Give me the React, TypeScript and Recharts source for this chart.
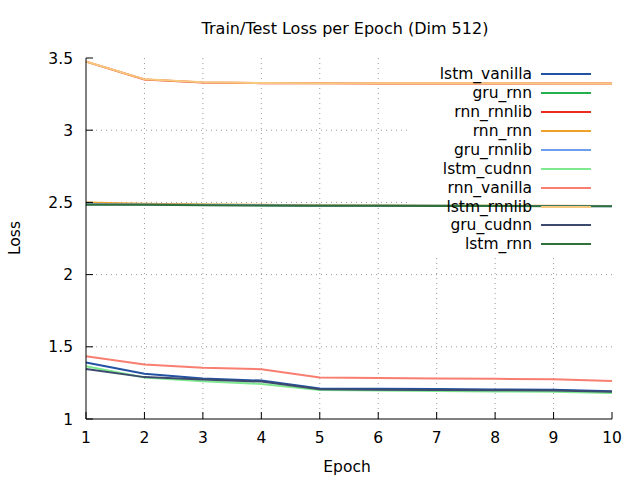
import React from 'react';
import { LineChart, Line, XAxis, YAxis, Legend, ReferenceLine } from 'recharts';

const epochs = [1, 2, 3, 4, 5, 6, 7, 8, 9, 10];
const xTicks = [1, 2, 3, 4, 5, 6, 7, 8, 9, 10];
const yTicks = [1, 1.5, 2, 2.5, 3, 3.5];

const lstmVanilla = [1.392, 1.313, 1.28, 1.266, 1.212, 1.209, 1.207, 1.205, 1.203, 1.193];
const gruRnn = [2.49, 2.488, 2.484, 2.481, 2.478, 2.477, 2.476, 2.476, 2.475, 2.475];
const rnnRnnlib = [3.475, 3.351, 3.331, 3.326, 3.325, 3.324, 3.324, 3.324, 3.323, 3.323];
const rnnRnn = [2.5, 2.49, 2.486, 2.483, 2.479, 2.478, 2.477, 2.476, 2.476, 2.475];
const gruRnnlib = [2.487, 2.486, 2.482, 2.48, 2.477, 2.476, 2.476, 2.475, 2.475, 2.474];
const lstmCudnn = [1.365, 1.287, 1.261, 1.243, 1.2, 1.197, 1.194, 1.191, 1.188, 1.18];
const rnnVanilla = [1.435, 1.378, 1.355, 1.345, 1.288, 1.284, 1.281, 1.278, 1.276, 1.263];
const lstmRnnlib = [3.476, 3.352, 3.332, 3.327, 3.326, 3.325, 3.325, 3.325, 3.324, 3.324];
const gruCudnn = [1.346, 1.29, 1.273, 1.259, 1.206, 1.203, 1.201, 1.199, 1.197, 1.188];
const lstmRnn = [2.484, 2.483, 2.481, 2.479, 2.477, 2.476, 2.475, 2.475, 2.474, 2.474];

const series = [
  { key: 'lstm_vanilla', values: lstmVanilla, color: '#2352a3' },
  { key: 'gru_rnn', values: gruRnn, color: '#22b14c' },
  { key: 'rnn_rnnlib', values: rnnRnnlib, color: '#ee2c1e' },
  { key: 'rnn_rnn', values: rnnRnn, color: '#eea12c' },
  { key: 'gru_rnnlib', values: gruRnnlib, color: '#6d9eef' },
  { key: 'lstm_cudnn', values: lstmCudnn, color: '#7fe98f' },
  { key: 'rnn_vanilla', values: rnnVanilla, color: '#f87e70' },
  { key: 'lstm_rnnlib', values: lstmRnnlib, color: '#f7c97e' },
  { key: 'gru_cudnn', values: gruCudnn, color: '#3b4a6d' },
  { key: 'lstm_rnn', values: lstmRnn, color: '#2f6f3a' },
];

const data = epochs.map((epoch, i) => {
  const row: Record<string, number> = { epoch };
  series.forEach((s) => {
    row[s.key] = s.values[i];
  });
  return row;
});

// grid stops where the key box sits (top right corner)
const gridX = [2, 3, 4, 5, 6, 7, 8, 9];
const gridY = [1.5, 2, 2.5, 3];
const keyLeft = 6.54;
const keyBottom = 2.136;

const font = '"DejaVu Sans", sans-serif';

function KeyBox(props: any) {
  const items = props.payload || [];
  const ordered = series
    .map((s) => items.find((it: any) => it.value === s.key))
    .filter(Boolean);
  return (
    <div style={{ fontFamily: font, fontSize: 15.5, color: '#000' }}>
      {ordered.map((item: any) => (
        <div key={item.value} style={{ display: 'flex', alignItems: 'center', height: 18.95 }}>
          <span style={{ width: 133, textAlign: 'right', lineHeight: '18px' }}>{item.value}</span>
          <svg width={60} height={6} style={{ marginLeft: 9 }}>
            <line x1={0} y1={3} x2={50} y2={3} stroke={item.color} strokeWidth={2} />
          </svg>
        </div>
      ))}
    </div>
  );
}

export default function App() {
  return (
    <div style={{ position: 'absolute', left: 0, top: 0, width: 640, height: 480, background: '#fff' }}>
      <div style={{ position: 'absolute', left: 82, top: 19, width: 526, textAlign: 'center', fontFamily: font, fontSize: 16 }}>
        Train/Test Loss per Epoch (Dim 512)
      </div>
      <div style={{ position: 'absolute', left: 84, top: 458, width: 526, textAlign: 'center', fontFamily: font, fontSize: 15.5 }}>
        Epoch
      </div>
      <div
        style={{
          position: 'absolute',
          left: 15,
          top: 238,
          fontFamily: font,
          fontSize: 15.5,
          transform: 'translate(-50%, -50%) rotate(-90deg)',
        }}
      >
        Loss
      </div>
      <LineChart width={640} height={480} data={data} margin={{ top: 58, right: 28, bottom: 0, left: 0 }}>
        {gridX.map((x) => (
          <ReferenceLine
            key={'gx' + x}
            segment={[{ x, y: 1 }, { x, y: x > keyLeft ? keyBottom : 3.5 }]}
            stroke="#999"
            strokeDasharray="1 4"
          />
        ))}
        {gridY.map((y) => (
          <ReferenceLine
            key={'gy' + y}
            segment={[{ x: 1, y }, { x: y > keyBottom ? keyLeft : 10, y }]}
            stroke="#999"
            strokeDasharray="1 4"
          />
        ))}
        <XAxis
          dataKey="epoch"
          type="number"
          domain={[1, 10]}
          ticks={xTicks}
          height={61}
          tickSize={-7}
          tickMargin={20}
          axisLine={{ stroke: '#000' }}
          tickLine={{ stroke: '#000' }}
          tick={{ fill: '#000', fontFamily: font, fontSize: 15.5 }}
        />
        <XAxis
          xAxisId="top"
          orientation="top"
          dataKey="epoch"
          type="number"
          domain={[1, 10]}
          ticks={xTicks}
          height={0}
          tickSize={-7}
          tick={false}
          axisLine={{ stroke: '#000' }}
          tickLine={{ stroke: '#000' }}
        />
        <YAxis
          type="number"
          domain={[1, 3.5]}
          ticks={yTicks}
          width={86}
          tickSize={-7}
          tickMargin={20}
          axisLine={{ stroke: '#000' }}
          tickLine={{ stroke: '#000' }}
          tick={{ fill: '#000', fontFamily: font, fontSize: 15.5 }}
        />
        <YAxis
          yAxisId="right"
          orientation="right"
          type="number"
          domain={[1, 3.5]}
          ticks={yTicks}
          width={0}
          tickSize={-7}
          tick={false}
          axisLine={{ stroke: '#000' }}
          tickLine={{ stroke: '#000' }}
        />
        <Legend
          layout="vertical"
          align="center"
          verticalAlign="middle"
          content={<KeyBox />}
          wrapperStyle={{ left: 399, top: 64.5, width: 207, height: 190 }}
        />
        {series.map((s) => (
          <Line
            key={s.key}
            type="linear"
            dataKey={s.key}
            name={s.key}
            stroke={s.color}
            strokeWidth={2}
            dot={false}
            isAnimationActive={false}
          />
        ))}
      </LineChart>
    </div>
  );
}
